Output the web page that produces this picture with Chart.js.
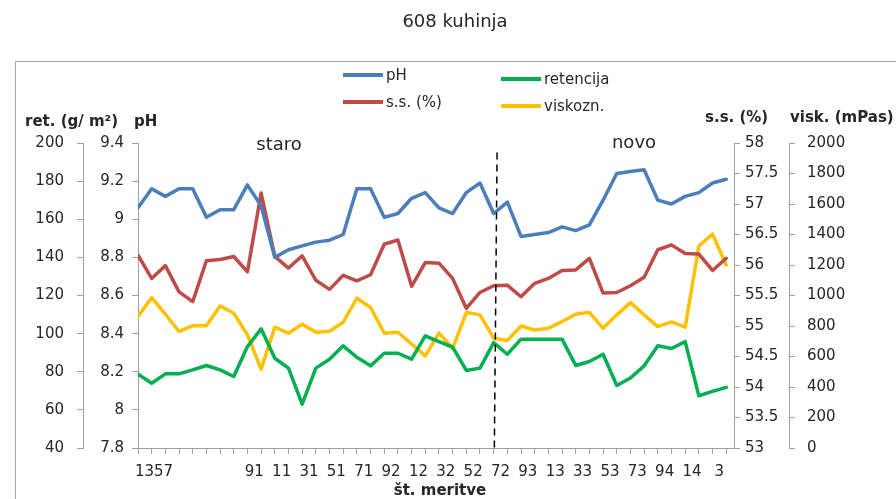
<!DOCTYPE html>
<html>
<head>
<meta charset="utf-8">
<title>608 kuhinja</title>
<script src="https://cdn.jsdelivr.net/npm/chart.js@4.4.1/dist/chart.umd.min.js"></script>
<style>
  html, body { margin: 0; padding: 0; background: #fff; overflow: hidden; }
  #wrap { position: relative; width: 896px; height: 499px; }
  #frame { position: absolute; left: 15px; top: 61px; width: 1000px; height: 1000px; border: 1px solid #a6a6a6; }
  #graf { position: absolute; left: 0; top: 0; }
</style>
</head>
<body>
<div id="wrap">
  <div id="frame"></div>
  <canvas id="graf" width="896" height="499"></canvas>
</div>
<script>
// številke meritev (44 meritev)
const meritve = [1, 2, 3, 4, 5, 6, 7, 8, 9, 10, 11, 12, 13, 14, 15, 16, 17, 18, 19, 20, 21, 22,
  23, 24, 25, 26, 27, 28, 29, 30, 31, 32, 33, 34, 35, 36, 37, 38, 39, 40, 41, 42, 43, 44];

// vrednosti, odčitane s slike
const phVrednosti = [9.06, 9.16, 9.12, 9.16, 9.16, 9.01, 9.05, 9.05, 9.18, 9.07, 8.80, 8.84,
  8.86, 8.88, 8.89, 8.92, 9.16, 9.16, 9.01, 9.03, 9.11, 9.14, 9.06, 9.03, 9.14, 9.19,
  9.03, 9.09, 8.91, 8.92, 8.93, 8.96, 8.94, 8.97, 9.10, 9.24, 9.25, 9.26, 9.10, 9.08,
  9.12, 9.14, 9.19, 9.21];
const ssVrednosti = [56.16, 55.78, 55.99, 55.56, 55.40, 56.07, 56.09, 56.14, 55.89, 57.18,
  56.14, 55.95, 56.15, 55.75, 55.60, 55.83, 55.74, 55.84, 56.34, 56.41, 55.65, 56.04,
  56.03, 55.78, 55.29, 55.55, 55.66, 55.67, 55.48, 55.70, 55.78, 55.91, 55.92, 56.11,
  55.54, 55.55, 55.66, 55.80, 56.25, 56.33, 56.19, 56.18, 55.91, 56.11];
const retVrednosti = [78.7, 74.0, 78.9, 78.9, 81.0, 83.3, 81.0, 77.5, 93.2, 102.5, 87.1, 81.9,
  63.0, 81.9, 86.6, 93.6, 87.6, 83.1, 89.7, 89.7, 86.6, 98.8, 95.8, 92.9, 80.7, 81.9,
  95.3, 89.2, 97.1, 97.1, 97.1, 97.1, 83.3, 85.4, 89.2, 72.8, 76.7, 83.1, 93.6, 92.2,
  95.8, 67.4, 69.7, 71.8];
const viskVrednosti = [862, 986, 877, 764, 801, 801, 931, 884, 742, 517, 792, 753, 812, 759,
  766, 825, 982, 921, 753, 759, 683, 604, 753, 654, 888, 873, 720, 705, 800, 774, 785,
  829, 877, 890, 785, 873, 953, 873, 796, 827, 792, 1324, 1403, 1200];

// oznake na oseh
const xOznake = ['1357', '91', '11', '31', '51', '71', '92', '12', '32', '52', '72', '93', '13',
  '33', '53', '73', '94', '14', '3'];
const xOznakePoz = [1.17, 8.5, 10.5, 12.5, 14.5, 16.5, 18.5, 20.5, 22.5, 24.5, 26.5, 28.5,
  30.5, 32.5, 34.5, 36.5, 38.5, 40.5, 42.5];
const retTicks = [40, 60, 80, 100, 120, 140, 160, 180, 200];
const phTicks = [7.8, 8, 8.2, 8.4, 8.6, 8.8, 9, 9.2, 9.4];
const ssTicks = [53, 53.5, 54, 54.5, 55, 55.5, 56, 56.5, 57, 57.5, 58];
const viskTicks = [0, 200, 400, 600, 800, 1000, 1200, 1400, 1600, 1800, 2000];

const X_MAX = 43.57;
const MEJA_ZGORAJ = 26.25;   // črtkana črta staro / novo
const MEJA_SPODAJ = 26.05;

const FONT = 'DejaVu Sans';
const TXT = '#262626';
const OS = '#a0a0a0';

const barve = { ph: '#4a7ebb', ss: '#be4b48', ret: '#00b050', visk: '#ffc000' };

function tocke(arr) {
  return arr.map((v, i) => ({ x: i, y: v }));
}

function yOs(pos, min, max, ticks, width, pad) {
  return {
    type: 'linear', position: pos, min: min, max: max,
    afterBuildTicks: s => { s.ticks = ticks.map(v => ({ value: v })); },
    afterFit: s => { s.width = width; },
    ticks: { color: TXT, font: { family: FONT, size: 15 }, padding: pad, callback: v => String(v) },
    grid: { drawOnChartArea: false, drawTicks: true, tickLength: 6, tickColor: OS, color: OS },
    border: { color: OS, width: 1 }
  };
}

// besedila, legenda in črtkana ločnica
const dodatki = {
  id: 'dodatki',
  afterDatasetsDraw(chart) {
    const ctx = chart.ctx;
    const xs = chart.scales.x;
    const yr = chart.scales.yRet;
    const ca = chart.chartArea;
    ctx.save();
    ctx.strokeStyle = '#000';
    ctx.lineWidth = 1.5;
    ctx.setLineDash([7, 5]);
    ctx.beginPath();
    ctx.moveTo(xs.getPixelForValue(MEJA_ZGORAJ), yr.getPixelForValue(195));
    ctx.lineTo(xs.getPixelForValue(MEJA_SPODAJ), ca.bottom);
    ctx.stroke();
    ctx.restore();
  },
  afterDraw(chart) {
    const ctx = chart.ctx;
    ctx.save();
    ctx.fillStyle = TXT;
    ctx.textBaseline = 'middle';

    ctx.font = '18px "' + FONT + '"';
    ctx.textAlign = 'center';
    ctx.fillText('608 kuhinja', 455, 22);
    ctx.fillText('staro', 279, 145);
    ctx.fillText('novo', 634, 143);

    ctx.font = 'bold 15px "' + FONT + '"';
    ctx.fillText('št. meritve', 440, 491);
    ctx.textAlign = 'left';
    ctx.fillText('ret. (g/ m²)', 25, 122);
    ctx.fillText('pH', 134, 122);
    ctx.fillText('s.s. (%)', 705, 118);
    ctx.fillText('visk. (mPas)', 790, 118);

    // legenda v dveh stolpcih
    const leg = [
      { ds: 0, x: 343, y: 75 },
      { ds: 1, x: 343, y: 102 },
      { ds: 2, x: 501, y: 79 },
      { ds: 3, x: 501, y: 106 }
    ];
    ctx.font = '15px "' + FONT + '"';
    leg.forEach(l => {
      const d = chart.data.datasets[l.ds];
      ctx.strokeStyle = d.borderColor;
      ctx.lineWidth = 4;
      ctx.beginPath();
      ctx.moveTo(l.x, l.y);
      ctx.lineTo(l.x + 40, l.y);
      ctx.stroke();
      ctx.fillStyle = TXT;
      ctx.fillText(d.label, l.x + 43, l.y + 1);
    });
    ctx.restore();
  }
};

const skupno = { borderWidth: 3.5, pointRadius: 0, tension: 0, fill: false, borderJoinStyle: 'round', borderCapStyle: 'round', xAxisID: 'x' };

new Chart(document.getElementById('graf'), {
  type: 'line',
  data: {
    datasets: [
      Object.assign({ label: 'pH', data: tocke(phVrednosti), borderColor: barve.ph, yAxisID: 'yPH' }, skupno),
      Object.assign({ label: 's.s. (%)', data: tocke(ssVrednosti), borderColor: barve.ss, yAxisID: 'ySS' }, skupno),
      Object.assign({ label: 'retencija', data: tocke(retVrednosti), borderColor: barve.ret, yAxisID: 'yRet' }, skupno),
      Object.assign({ label: 'viskozn.', data: tocke(viskVrednosti), borderColor: barve.visk, yAxisID: 'yVisk' }, skupno)
    ]
  },
  options: {
    responsive: false,
    animation: false,
    layout: { padding: { left: 10, right: 27, top: 143, bottom: 0 } },
    plugins: { legend: { display: false }, title: { display: false }, tooltip: { enabled: false } },
    scales: {
      x: {
        type: 'linear', position: 'bottom', min: 0, max: X_MAX,
        afterBuildTicks: s => { s.ticks = meritve.map((m, i) => ({ value: i })); },
        afterFit: s => { s.height = 7; },
        ticks: { display: false },
        grid: { drawOnChartArea: false, drawTicks: true, tickLength: 6, tickColor: OS, color: OS },
        border: { color: OS, width: 1 }
      },
      xl: {
        type: 'linear', position: 'bottom', min: 0, max: X_MAX,
        afterBuildTicks: s => { s.ticks = xOznakePoz.map(v => ({ value: v })); },
        afterFit: s => { s.height = 44; },
        ticks: {
          autoSkip: false, maxRotation: 0, minRotation: 0, padding: 8,
          color: TXT, font: { family: FONT, size: 15 },
          callback: (v, i) => xOznake[i]
        },
        grid: { display: false, drawTicks: false },
        border: { display: false }
      },
      yPH: yOs('left', 7.8, 9.4, phTicks, 55, 8),
      yRet: yOs('left', 40, 200, retTicks, 73, 13),
      ySS: yOs('right', 53, 58, ssTicks, 55, 5),
      yVisk: yOs('right', 0, 2000, viskTicks, 80, 12)
    }
  },
  plugins: [dodatki]
});
</script>
</body>
</html>
